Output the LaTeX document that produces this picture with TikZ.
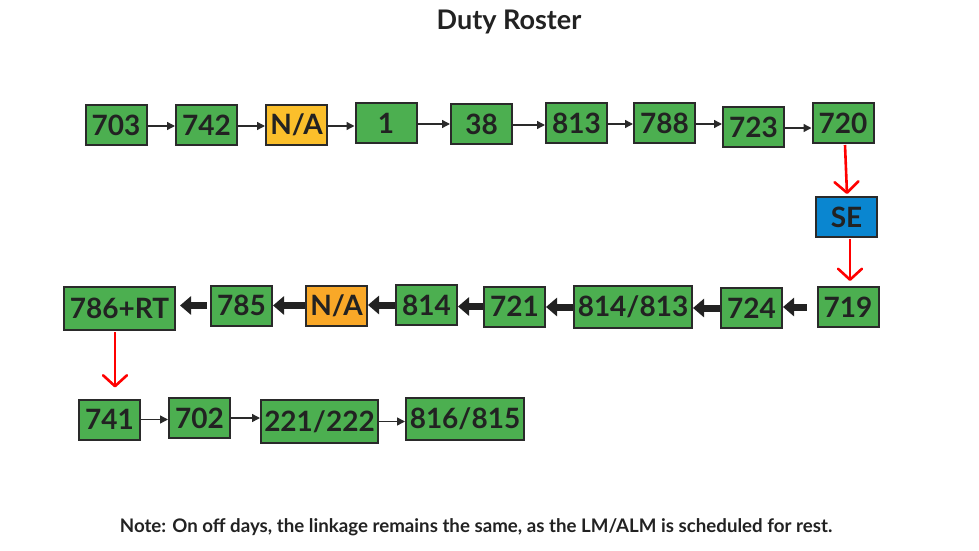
\documentclass[tikz,border=0pt]{standalone}
\usepackage{fontspec}
\setmainfont{Lato}
\usetikzlibrary{arrows.meta}
\definecolor{boxgreen}{HTML}{4CAF50}
\definecolor{boxorange}{HTML}{FBBF2B}
\definecolor{boxorangeb}{HTML}{F9A828}
\definecolor{boxblue}{HTML}{0A86D0}
\definecolor{edgegray}{HTML}{2A2A2A}
\definecolor{txtgray}{HTML}{222222}
\tikzset{
  rbox/.style={draw=edgegray, line width=2pt, inner sep=0pt, text=txtgray,
    font=\fontsize{28}{30}\selectfont\bfseries, minimum height=40pt, minimum width=61pt},
  gbox/.style={rbox, fill=boxgreen},
  obox/.style={rbox, fill=boxorange},
  obox2/.style={rbox, fill=boxorangeb},
  bbox/.style={rbox, fill=boxblue},
  wide/.style={minimum width=118pt, minimum height=42pt},
  thinarrow/.style={draw=edgegray, line width=1.4pt, -{Triangle[length=8pt,width=8pt]}},
  thickarrow/.style={draw=txtgray, line width=7pt, -{Triangle[length=11pt,width=18pt]}},
  redarrow/.style={draw=red, line width=2.6pt, -{Straight Barb[length=11pt,width=24pt,line width=2.6pt,round]}},
}
\begin{document}
\begin{tikzpicture}[x=1pt,y=-1pt]
\useasboundingbox (0,0) rectangle (979,551);
\node[font=\fontsize{27}{30}\selectfont\bfseries, text=txtgray] (title) at (509,22) {Duty Roster};
% Row 1
\node[gbox] (r1a) at (116,125) {703};
\node[gbox] (r1b) at (206.5,125) {742};
\node[obox] (r1c) at (296.5,125) {N/A};
\node[gbox] (r1d) at (386,123) {1};
\node[gbox] (r1e) at (481.5,124) {38};
\node[gbox] (r1f) at (576.5,123) {813};
\node[gbox] (r1g) at (664.5,123) {788};
\node[gbox] (r1h) at (753.5,127) {723};
\node[gbox] (r1i) at (843,123) {720};
\node[bbox] (se) at (846.5,217) {SE};
% Row 2
\node[gbox] (r2a) at (848,307) {719};
\node[gbox] (r2b) at (751.5,308) {724};
\node[gbox, wide] (r2c) at (633,307) {814/813};
\node[gbox] (r2d) at (514.5,306.5) {721};
\node[gbox] (r2e) at (426.5,305) {814};
\node[obox2] (r2f) at (336.5,305.5) {N/A};
\node[gbox] (r2g) at (241.5,305.5) {785};
\node[gbox, minimum width=111pt, minimum height=43pt] (r2h) at (119.5,308.5) {786+RT};
% Row 3
\node[gbox] (r3a) at (109.5,419.5) {741};
\node[gbox] (r3b) at (199.5,418) {702};
\node[gbox, minimum width=117pt, minimum height=43pt] (r3c) at (319.5,421.5) {221/222};
\node[gbox, wide] (r3d) at (465,419) {816/815};
% Note
\node[font=\fontsize{18.7}{20}\selectfont\bfseries, text=txtgray] (note) at (476,527) {Note: On off days, the linkage remains the same, as the LM/ALM is scheduled for rest.};
% Row 1 arrows
\foreach \a/\b in {r1a/r1b, r1b/r1c, r1c/r1d, r1d/r1e, r1e/r1f, r1f/r1g, r1g/r1h, r1h/r1i}{
  \draw[thinarrow] ([yshift=-1pt]\a.east) -- ([yshift=-1pt]\a.east -| \b.west);
}
% Row 3 arrows
\foreach \a/\b in {r3a/r3b, r3b/r3c, r3c/r3d}{
  \draw[thinarrow] (\a.east) -- (\a.east -| \b.west);
}
% Row 2 thick arrows
\draw[thickarrow, shorten <=10pt] (r2a.west) -- (r2a.west -| r2b.east);
\foreach \a/\b in {r2b/r2c, r2c/r2d, r2d/r2e, r2e/r2f, r2f/r2g}{
  \draw[thickarrow] (\a.west) -- (\a.west -| \b.east);
}
\draw[thickarrow, shorten <=3pt, shorten >=4pt] (r2g.west) -- (r2g.west -| r2h.east);
% Red arrows (canvas yshift: positive = up)
\draw[redarrow] ([xshift=2pt,yshift=-1pt]r1i.south) -- ([xshift=0.5pt,yshift=2pt]se.north);
\draw[redarrow] ([xshift=3.5pt,yshift=-1pt]se.south) -- ([xshift=2pt,yshift=5pt]r2a.north);
\draw[redarrow] ([xshift=-4.5pt,yshift=-1pt]r2h.south) -- ([xshift=5.5pt,yshift=11pt]r3a.north);
\end{tikzpicture}
\end{document}
